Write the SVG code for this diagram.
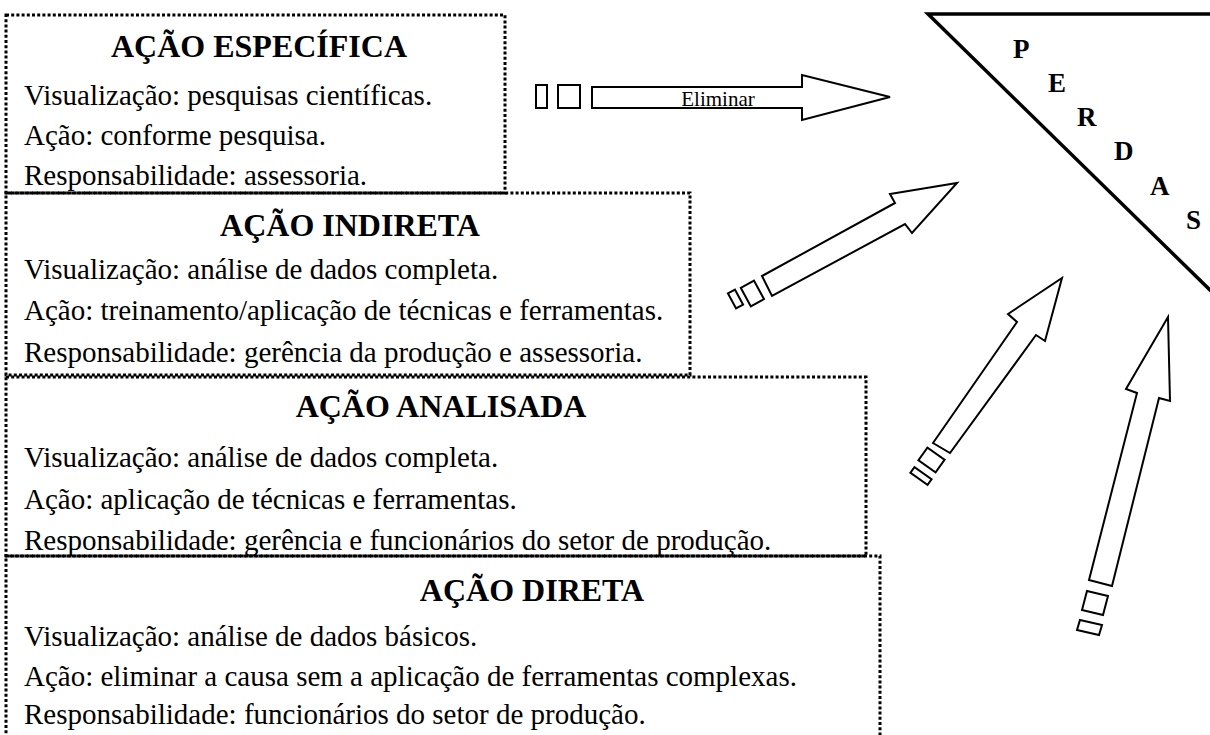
<svg xmlns="http://www.w3.org/2000/svg" width="1210" height="735" viewBox="0 0 1210 735">
<style>
.box{fill:none;stroke:#000;stroke-width:3;stroke-dasharray:3 2.2}
.title{font-family:"Liberation Serif","Times New Roman",serif;font-weight:bold;font-size:32px;fill:#000;text-anchor:middle}
.body{font-family:"Liberation Serif","Times New Roman",serif;font-size:29px;fill:#000}
.arrow{fill:#fff;stroke:#000;stroke-width:2;stroke-linejoin:miter}
.tri{fill:none;stroke:#000;stroke-width:3.5}
.letter{font-family:"Liberation Serif","Times New Roman",serif;font-weight:bold;font-size:27px;fill:#000}
.lbl{font-family:"Liberation Serif","Times New Roman",serif;font-size:21px;fill:#000;text-anchor:middle}
</style>
<rect width="1210" height="735" fill="#fff"/>
<g id="perdas">
<polyline class="tri" points="1212,14 928,14 1212,292"/>
<text class="letter" x="1013" y="58">P</text>
<text class="letter" x="1048" y="92">E</text>
<text class="letter" x="1077" y="126">R</text>
<text class="letter" x="1114" y="160">D</text>
<text class="letter" x="1150" y="195">A</text>
<text class="letter" x="1186" y="229">S</text>
</g>
<g id="acao-direta">
<rect class="box" x="6" y="556" width="874" height="200"/>
<text class="title" x="532" y="601">AÇÃO DIRETA</text>
<text class="body" x="24" y="646">Visualização: análise de dados básicos.</text>
<text class="body" x="24" y="686">Ação: eliminar a causa sem a aplicação de ferramentas complexas.</text>
<text class="body" x="24" y="724">Responsabilidade: funcionários do setor de produção.</text>
</g>
<g id="acao-analisada">
<rect class="box" x="6" y="377" width="860" height="179"/>
<text class="title" x="441" y="417">AÇÃO ANALISADA</text>
<text class="body" x="24" y="467">Visualização: análise de dados completa.</text>
<text class="body" x="24" y="509">Ação: aplicação de técnicas e ferramentas.</text>
<text class="body" x="24" y="550">Responsabilidade: gerência e funcionários do setor de produção.</text>
</g>
<g id="acao-indireta">
<rect class="box" x="6" y="193" width="684" height="182"/>
<text class="title" x="350" y="236">AÇÃO INDIRETA</text>
<text class="body" x="24" y="279">Visualização: análise de dados completa.</text>
<text class="body" x="24" y="320">Ação: treinamento/aplicação de técnicas e ferramentas.</text>
<text class="body" x="24" y="362">Responsabilidade: gerência da produção e assessoria.</text>
</g>
<g id="acao-especifica">
<rect class="box" x="6" y="15" width="499" height="178"/>
<text class="title" x="259" y="57">AÇÃO ESPECÍFICA</text>
<text class="body" x="24" y="105">Visualização: pesquisas científicas.</text>
<text class="body" x="24" y="145">Ação: conforme pesquisa.</text>
<text class="body" x="24" y="185">Responsabilidade: assessoria.</text>
</g>
<g id="connectors">
<g id="arrow-eliminar">
<rect class="arrow" x="536" y="85" width="11" height="23"/>
<rect class="arrow" x="558" y="85" width="22" height="23"/>
<polygon class="arrow" points="592,87 802,87 802,75 890,97 802,120 802,108 592,108"/>
<text class="lbl" x="718" y="106">Eliminar</text>
</g>
<g id="arrow-indireta">
<rect class="arrow" x="-4" y="-8.5" width="8" height="17" transform="translate(735.5,299) rotate(-28.5)"/>
<rect class="arrow" x="-7.5" y="-10.5" width="15" height="21" transform="translate(752.4,293.5) rotate(-28.5)"/>
<polygon class="arrow" points="762,276 895,203 890,194 957,183 912,233 905,224 772,296"/>
</g>
<g id="arrow-analisada">
<rect class="arrow" x="-3.5" y="-10.5" width="7" height="21" transform="translate(921,476) rotate(-54.7)"/>
<rect class="arrow" x="-7.8" y="-10.5" width="15.6" height="21" transform="translate(931.5,460) rotate(-54.7)"/>
<polygon class="arrow" points="933,443 1017,322 1008,314 1062,278 1045,341 1036,335 950,453"/>
</g>
<g id="arrow-direta">
<polygon class="arrow" points="1080,620 1102,625 1099,635 1077,630"/>
<polygon class="arrow" points="1087,591 1108,596 1103,615 1082,610"/>
<polygon class="arrow" points="1089,580 1137,393 1126,389 1168,317 1170,401 1159,398 1112,586"/>
</g>
</g>
</svg>
